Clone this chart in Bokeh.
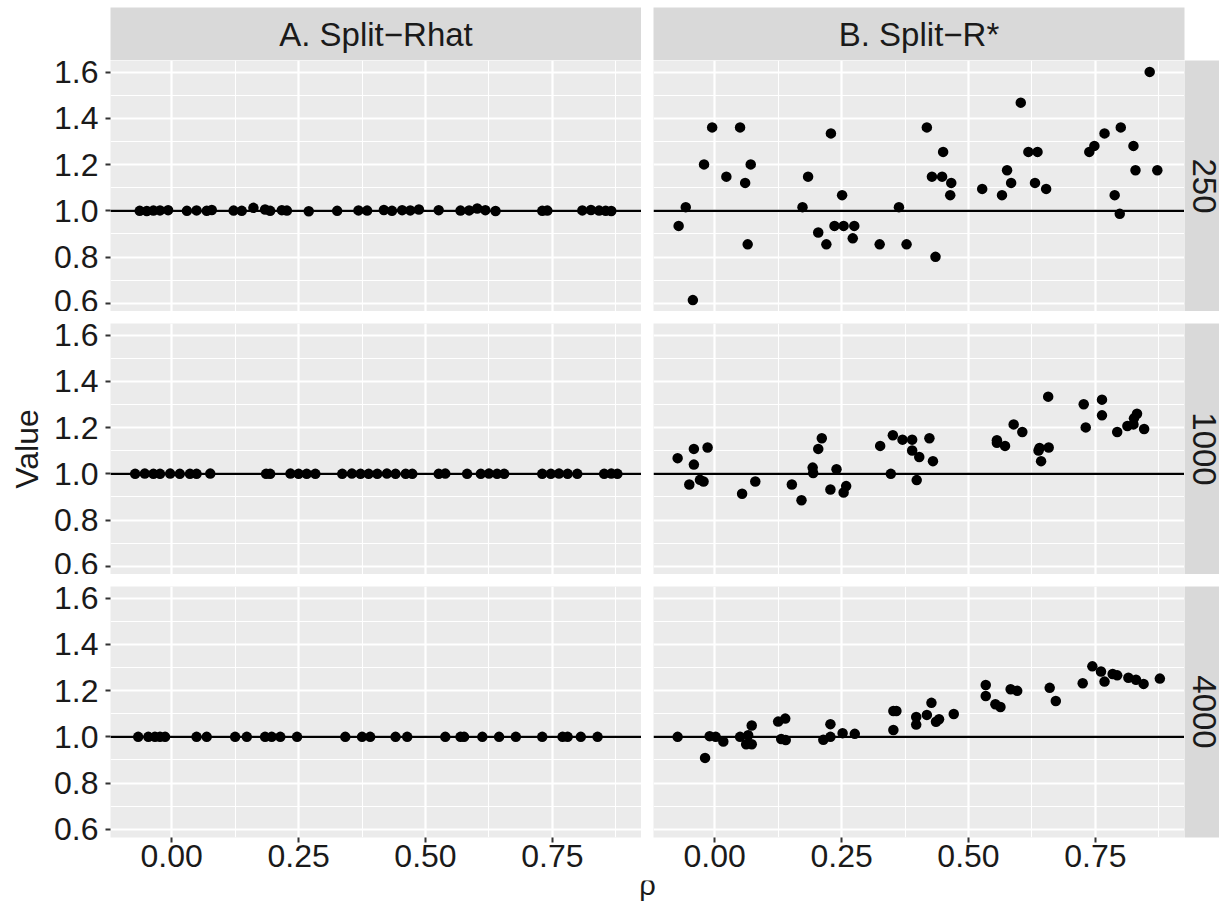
import math
from bokeh.plotting import figure
from bokeh.layouts import row, column
from bokeh.models import Range1d, FixedTicker, NumeralTickFormatter, Span, ColumnDataSource
from bokeh.core.properties import value
from bokeh.embed import file_html
from bokeh.resources import INLINE

FONT = "Liberation Sans"

# ---------------- data ----------------
col_labels = ["A. Split\u2212Rhat", "B. Split\u2212R*"]
row_labels = ["250", "1000", "4000"]
x_ticks = [0.0, 0.25, 0.5, 0.75]
x_minor = [0.125, 0.375, 0.625, 0.875]
y_ticks = [0.6, 0.8, 1.0, 1.2, 1.4, 1.6]
y_minor = [0.7, 0.9, 1.1, 1.3, 1.5]
ref_value = 1.0

# Split-Rhat, 250
rhat_250_rho = [-0.063, -0.049, -0.036, -0.023, -0.007, 0.030, 0.049, 0.069, 0.079, 0.122,
                0.138, 0.161, 0.184, 0.194, 0.217, 0.227, 0.270, 0.326, 0.368, 0.385,
                0.418, 0.434, 0.454, 0.470, 0.487, 0.526, 0.569, 0.586, 0.602, 0.618,
                0.638, 0.730, 0.740, 0.809, 0.826, 0.842, 0.855, 0.866]
rhat_250_val = [1.000, 0.999, 1.001, 1.002, 1.003, 1.000, 1.002, 1.000, 1.004, 1.001,
                1.000, 1.013, 1.006, 1.000, 1.003, 1.001, 0.998, 1.000, 1.002, 1.001,
                1.004, 1.000, 1.003, 1.002, 1.006, 1.003, 1.001, 1.002, 1.010, 1.003,
                0.999, 1.000, 1.001, 1.002, 1.004, 1.001, 1.000, 0.999]
# Split-Rhat, 1000
rhat_1000_rho = [-0.072, -0.053, -0.036, -0.023, -0.003, 0.016, 0.036, 0.049, 0.076, 0.186,
                 0.194, 0.234, 0.250, 0.266, 0.283, 0.336, 0.355, 0.372, 0.388, 0.405,
                 0.424, 0.441, 0.461, 0.474, 0.526, 0.539, 0.582, 0.609, 0.625, 0.641,
                 0.655, 0.730, 0.747, 0.763, 0.780, 0.799, 0.852, 0.866, 0.878]
rhat_1000_val = [1.000, 1.001, 1.000, 1.000, 1.001, 1.000, 1.000, 1.000, 1.001, 1.000,
                 1.000, 1.001, 1.000, 1.000, 1.000, 1.000, 1.001, 1.000, 1.000, 1.000,
                 1.001, 1.000, 1.000, 1.000, 1.000, 1.001, 1.000, 1.000, 1.001, 1.000,
                 1.000, 1.000, 1.000, 1.001, 1.000, 1.000, 1.000, 1.001, 1.000]
# Split-Rhat, 4000
rhat_4000_rho = [-0.066, -0.046, -0.033, -0.023, -0.013, 0.049, 0.069, 0.125, 0.148, 0.184,
                 0.197, 0.214, 0.247, 0.342, 0.375, 0.391, 0.441, 0.464, 0.539, 0.569,
                 0.576, 0.612, 0.645, 0.678, 0.730, 0.770, 0.780, 0.806, 0.839]
rhat_4000_val = [1.000, 1.000, 1.000, 1.000, 1.000, 1.000, 1.000, 1.000, 1.000, 1.000,
                 1.000, 1.000, 1.000, 1.000, 1.000, 1.000, 1.000, 1.000, 1.000, 1.000,
                 1.000, 1.000, 1.000, 1.000, 1.000, 1.000, 1.000, 1.000, 1.000]

# Split-R*, 250
rstar_250_rho = [-0.071, -0.057, -0.043, -0.021, -0.005, 0.023, 0.050, 0.060, 0.065, 0.071,
                 0.173, 0.184, 0.204, 0.220, 0.229, 0.236, 0.251, 0.254, 0.272, 0.275,
                 0.325, 0.363, 0.378, 0.418, 0.428, 0.435, 0.448, 0.450, 0.466, 0.464,
                 0.527, 0.566, 0.576, 0.584, 0.603, 0.618, 0.636, 0.631, 0.653, 0.738,
                 0.748, 0.768, 0.788, 0.798, 0.800, 0.825, 0.829, 0.857, 0.872]
rstar_250_val = [0.935, 1.016, 0.614, 1.201, 1.361, 1.148, 1.361, 1.121, 0.855, 1.201,
                 1.016, 1.148, 0.906, 0.855, 1.335, 0.935, 1.068, 0.935, 0.881, 0.935,
                 0.855, 1.016, 0.855, 1.361, 1.148, 0.801, 1.148, 1.255, 1.121, 1.068,
                 1.095, 1.068, 1.176, 1.121, 1.468, 1.255, 1.255, 1.121, 1.095, 1.255,
                 1.281, 1.335, 1.068, 0.987, 1.361, 1.281, 1.176, 1.601, 1.176]
# Split-R*, 1000
rstar_1000_rho = [-0.073, -0.041, -0.041, -0.050, -0.029, -0.022, -0.014, 0.054, 0.080, 0.152,
                  0.171, 0.193, 0.194, 0.204, 0.211, 0.228, 0.240, 0.254, 0.259, 0.326,
                  0.347, 0.351, 0.370, 0.389, 0.389, 0.398, 0.403, 0.423, 0.430, 0.556,
                  0.556, 0.572, 0.589, 0.606, 0.638, 0.640, 0.643, 0.658, 0.657, 0.727,
                  0.731, 0.763, 0.763, 0.793, 0.813, 0.825, 0.826, 0.832, 0.846]
rstar_1000_val = [1.068, 1.108, 1.040, 0.954, 0.974, 0.967, 1.114, 0.914, 0.967, 0.954,
                  0.886, 1.027, 1.004, 1.108, 1.154, 0.932, 1.020, 0.919, 0.947, 1.121,
                  1.000, 1.167, 1.148, 1.148, 1.101, 0.973, 1.073, 1.154, 1.055, 1.145,
                  1.134, 1.121, 1.214, 1.181, 1.101, 1.112, 1.055, 1.114, 1.334, 1.301,
                  1.201, 1.321, 1.253, 1.181, 1.207, 1.214, 1.240, 1.260, 1.194]
# Split-R*, 4000
rstar_4000_rho = [-0.073, -0.019, -0.010, 0.002, 0.017, 0.050, 0.062, 0.066, 0.073, 0.073,
                  0.125, 0.131, 0.139, 0.140, 0.214, 0.228, 0.228, 0.252, 0.276, 0.352,
                  0.352, 0.358, 0.397, 0.397, 0.418, 0.427, 0.436, 0.442, 0.471, 0.534,
                  0.534, 0.553, 0.563, 0.583, 0.596, 0.660, 0.672, 0.725, 0.744, 0.761,
                  0.768, 0.784, 0.793, 0.815, 0.830, 0.845, 0.877]
rstar_4000_val = [1.000, 0.909, 1.003, 1.000, 0.980, 1.000, 0.968, 1.007, 0.968, 1.049,
                  1.066, 0.991, 1.079, 0.986, 0.987, 1.000, 1.055, 1.016, 1.013, 1.030,
                  1.112, 1.112, 1.086, 1.053, 1.095, 1.147, 1.065, 1.076, 1.099, 1.224,
                  1.177, 1.141, 1.129, 1.206, 1.199, 1.212, 1.155, 1.232, 1.305, 1.283,
                  1.239, 1.272, 1.266, 1.256, 1.247, 1.229, 1.252]

panels = [
    [(rhat_250_rho, rhat_250_val), (rstar_250_rho, rstar_250_val)],
    [(rhat_1000_rho, rhat_1000_val), (rstar_1000_rho, rstar_1000_val)],
    [(rhat_4000_rho, rhat_4000_val), (rstar_4000_rho, rstar_4000_val)],
]

# ---------------- layout constants ----------------
TOP_PAD = 7
LEFT = 110
PANEL_W = 531
GAP = 12
STRIP_W = 35
STRIP_H = 53
PANEL_H = 251
BOTTOM = 43
XLAB_H = 23
TOTAL_W = LEFT + PANEL_W + GAP + PANEL_W + STRIP_W

PANEL_BG = "#EBEBEB"
STRIP_BG = "#D9D9D9"
TEXT_C = "#1A1A1A"

# shared scales (ggplot-like 5% expansion)
all_x = [v for r in panels for c in r for v in c[0]]
all_y = [v for r in panels for c in r for v in c[1]]
xw = max(all_x) - min(all_x)
yw = max(all_y) - min(all_y)
xlim = (min(all_x) - 0.05 * xw, max(all_x) + 0.05 * xw)
ylim = (min(all_y) - 0.05 * yw, max(all_y) + 0.05 * yw)


def base_fig(width, height, **kw):
    return figure(width=width, height=height, output_backend="svg",
                  toolbar_location=None, title=None, min_border=0,
                  outline_line_color=None, border_fill_color="white", **kw)


def make_panel(xs, ys, ci, ri):
    lb = LEFT if ci == 0 else GAP
    top = 0 if ri == 0 else GAP
    bottom = BOTTOM if ri == 2 else 0
    p = base_fig(lb + PANEL_W, top + PANEL_H + bottom,
                 x_range=Range1d(*xlim), y_range=Range1d(*ylim),
                 min_border_left=lb, min_border_right=0,
                 min_border_top=top, min_border_bottom=bottom,
                 background_fill_color=PANEL_BG)
    xt = FixedTicker(ticks=x_ticks, minor_ticks=x_minor)
    yt = FixedTicker(ticks=y_ticks, minor_ticks=y_minor)
    p.xaxis.ticker = xt
    p.yaxis.ticker = yt
    p.xgrid.ticker = xt
    p.ygrid.ticker = yt
    for g in (p.xgrid[0], p.ygrid[0]):
        g.grid_line_color = "white"
        g.grid_line_width = 2.2
        g.minor_grid_line_color = "white"
        g.minor_grid_line_width = 1.1
    p.xaxis.formatter = NumeralTickFormatter(format="0.00")
    p.yaxis.formatter = NumeralTickFormatter(format="0.0")
    for ax in (p.xaxis[0], p.yaxis[0]):
        ax.axis_line_color = None
        ax.major_tick_line_color = "#333333"
        ax.major_tick_line_width = 2
        ax.major_tick_in = 0
        ax.major_tick_out = 5
        ax.minor_tick_line_color = None
        ax.major_label_text_font = FONT
        ax.major_label_text_font_size = "32px"
        ax.major_label_text_color = TEXT_C
        ax.axis_label_text_font = FONT
        ax.axis_label_text_font_size = "32px"
        ax.axis_label_text_font_style = "normal"
        ax.axis_label_text_color = TEXT_C
    p.yaxis.major_label_standoff = 7
    p.xaxis.major_label_standoff = 2
    if ri != 2:
        p.xaxis.visible = False
    if ci != 0:
        p.yaxis.visible = False
    if ci == 0 and ri == 1:
        p.yaxis.axis_label = "Value"
        p.yaxis.axis_label_standoff = 6
    p.add_layout(Span(location=ref_value, dimension="width",
                      line_color="black", line_width=2.2))
    src = ColumnDataSource(dict(rho=xs, val=ys))
    p.scatter(x="rho", y="val", source=src, size=10.5,
              fill_color="black", line_color=None)
    return p


def top_strip(label, ci):
    lb = LEFT if ci == 0 else GAP
    rb = 0 if ci == 0 else STRIP_W
    p = base_fig(lb + PANEL_W + rb, TOP_PAD + STRIP_H,
                 x_range=Range1d(0, 1), y_range=Range1d(0, 1),
                 x_axis_location=None, y_axis_location=None,
                 min_border_left=lb, min_border_right=rb,
                 min_border_top=TOP_PAD, min_border_bottom=0,
                 background_fill_color=STRIP_BG)
    p.grid.visible = False
    p.text(x=[0.5], y=[0.5], text=[label], text_align="center",
           text_baseline="middle", text_font=value(FONT),
           text_font_size="33px", text_color=TEXT_C)
    return p


def right_strip(label, ri):
    top = 0 if ri == 0 else GAP
    bottom = BOTTOM if ri == 2 else 0
    p = base_fig(STRIP_W, top + PANEL_H + bottom,
                 x_range=Range1d(0, STRIP_W), y_range=Range1d(0, 1),
                 x_axis_location=None, y_axis_location=None,
                 min_border_left=0, min_border_right=0,
                 min_border_top=top, min_border_bottom=bottom,
                 background_fill_color=STRIP_BG)
    p.grid.visible = False
    p.text(x=[STRIP_W / 2 + 2.5], y=[0.5], text=[label], angle=-math.pi / 2,
           text_align="center", text_baseline="middle",
           text_font=value(FONT), text_font_size="33px", text_color=TEXT_C)
    return p


def x_title():
    p = base_fig(TOTAL_W, XLAB_H,
                 x_range=Range1d(0, TOTAL_W), y_range=Range1d(0, XLAB_H),
                 x_axis_location=None, y_axis_location=None,
                 min_border_left=0, min_border_right=0,
                 min_border_top=0, min_border_bottom=0,
                 background_fill_color="white")
    p.grid.visible = False
    cx = LEFT + (2 * PANEL_W + GAP) / 2
    p.text(x=[cx], y=[XLAB_H / 2 + 7.5], text=["\u03c1"], text_align="center",
           text_baseline="middle", text_font=value(FONT),
           text_font_size="29px", text_color=TEXT_C)
    return p


rows = [row(top_strip(col_labels[0], 0), top_strip(col_labels[1], 1))]
for ri in range(3):
    figs = [make_panel(panels[ri][ci][0], panels[ri][ci][1], ci, ri) for ci in range(2)]
    figs.append(right_strip(row_labels[ri], ri))
    rows.append(row(*figs))
rows.append(x_title())

layout = column(*rows)

with open("out.html", "w") as f:
    f.write(file_html(layout, INLINE))
